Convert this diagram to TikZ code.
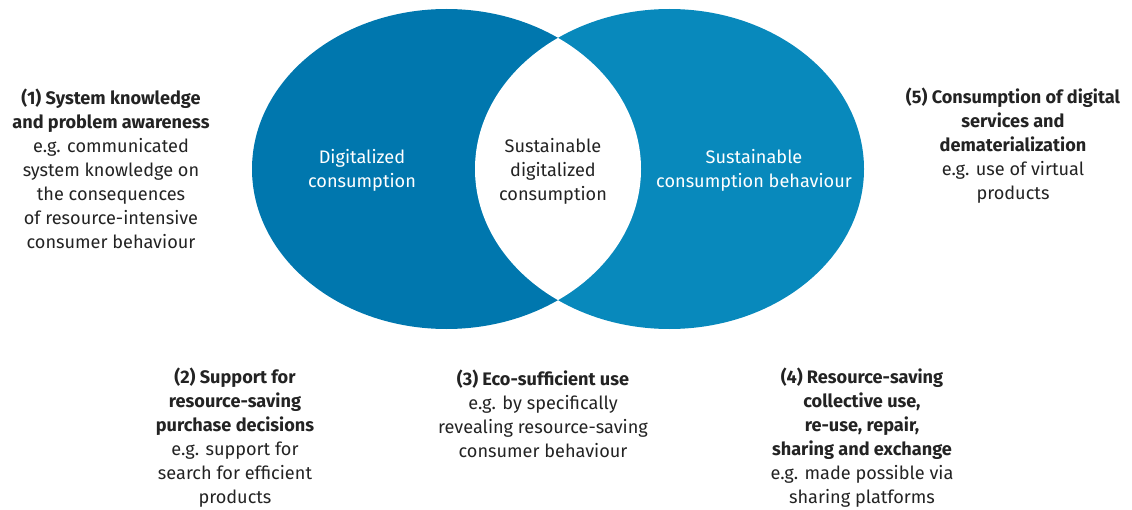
\documentclass[tikz,border=0pt]{standalone}
\usepackage{fontspec}
\setmainfont{Fira Sans}
\definecolor{digiblue}{RGB}{0,119,174}
\definecolor{sustblue}{RGB}{8,137,188}
\definecolor{textgrey}{RGB}{35,35,35}
\tikzset{
  field/.style={font=\fontsize{13.6}{18}\selectfont, align=center, text=textgrey, inner sep=0pt},
  inlabel/.style={font=\fontsize{13.6}{18}\selectfont, align=center, text=white, inner sep=0pt},
}
\begin{document}
\begin{tikzpicture}[x=0.75pt,y=-0.75pt]
\useasboundingbox (0,0) rectangle (1132,510);

\coordinate (L) at (446.5,169);
\coordinate (R) at (669.5,169);

\fill[digiblue] (L) ellipse (145.875pt and 120pt);
\fill[sustblue] (R) ellipse (145.875pt and 120pt);
\begin{scope}
\clip (L) ellipse (145.875pt and 120pt);
\fill[white] (R) ellipse (145.875pt and 120pt);
\end{scope}

\node[inlabel] (digital) at (362,170) {Digitalized\\consumption};
\node[field] (both) at (553,171) {Sustainable\\digitalized\\consumption};
\node[inlabel] (sustain) at (754,170) {Sustainable\\consumption behaviour};

\node[field] (aware) at (111,169) {\textbf{(1) System knowledge}\\\textbf{and problem awareness}\\e.g. communicated\\system knowledge on\\the consequences\\of resource-intensive\\consumer behaviour};
\node[field] (support) at (235,438) {\textbf{(2) Support for}\\\textbf{resource-saving}\\\textbf{purchase decisions}\\e.g. support for\\search for efficient\\products};
\node[field] (suffic) at (543,414) {\textbf{(3) Eco-sufficient use}\\e.g. by specifically\\revealing resource-saving\\consumer behaviour};
\node[field] (collect) at (862,438) {\textbf{(4) Resource-saving}\\\textbf{collective use,}\\\textbf{re-use, repair,}\\\textbf{sharing and exchange}\\e.g. made possible via\\sharing platforms};
\node[field] (demat) at (1013,146) {\textbf{(5) Consumption of digital}\\\textbf{services and}\\\textbf{dematerialization}\\e.g. use of virtual\\products};
\end{tikzpicture}
\end{document}
